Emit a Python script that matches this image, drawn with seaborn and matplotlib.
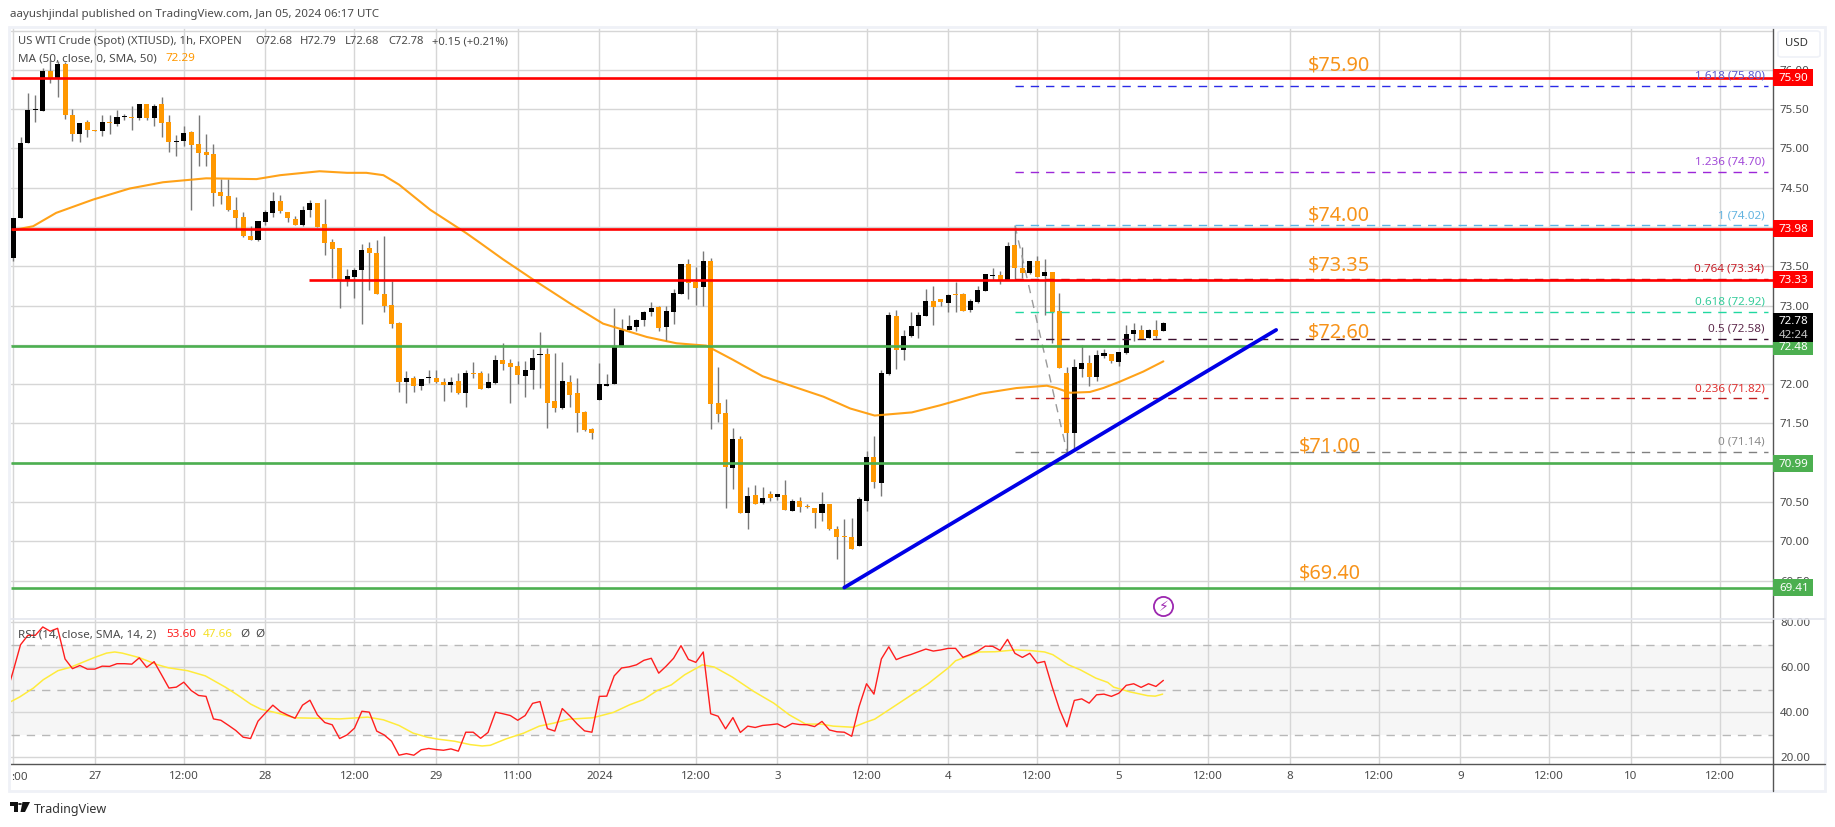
import numpy as np
import pandas as pd
import seaborn as sns
import matplotlib.pyplot as plt
from matplotlib.patches import Rectangle, Polygon, Circle, FancyBboxPatch
from matplotlib.transforms import blended_transform_factory

# hourly candles
opens = [73.61,74.12,75.07,75.49,75.48,75.99,75.90,76.07,75.43,75.19,75.34,75.23,75.22,75.34,75.31,75.40,75.40,75.39,75.56,75.39,
         75.56,75.34,75.08,75.09,75.21,75.06,74.96,74.93,74.44,74.40,74.22,74.13,73.89,73.84,74.07,74.18,74.33,74.19,74.10,74.03,
         74.22,74.30,74.04,73.81,73.73,73.31,73.37,73.45,73.73,73.67,73.15,73.01,72.78,72.03,72.08,71.97,72.08,72.08,72.03,71.99,
         72.04,71.89,72.14,72.14,71.95,72.01,72.31,72.27,72.23,72.10,72.18,72.37,72.38,71.79,71.70,72.03,71.89,71.65,71.43,71.80,
         71.98,72.00,72.47,72.69,72.73,72.82,72.92,72.98,72.73,72.92,73.15,73.53,73.30,73.24,73.57,71.76,71.63,70.93,71.30,70.36,
         70.59,70.49,70.60,70.56,70.59,70.38,70.51,70.45,70.42,70.36,70.47,70.15,70.07,70.06,69.94,70.51,71.07,70.74,72.13,72.87,
         72.44,72.61,72.74,72.87,73.06,73.08,73.03,73.14,73.15,72.94,73.05,73.19,73.38,73.39,73.33,73.77,73.48,73.42,73.57,73.38,
         73.43,72.93,72.14,71.38,72.19,72.27,72.09,72.36,72.38,72.28,72.40,72.64,72.69,72.59,72.69,72.68]
highs = [74.12,75.15,75.70,75.68,76.02,76.13,76.11,76.10,75.50,75.33,75.36,75.23,75.42,75.42,75.49,75.44,75.54,75.57,75.56,75.56,
         75.66,75.43,75.17,75.29,75.22,75.42,75.19,75.06,74.61,74.61,74.38,74.19,74.01,74.08,74.22,74.45,74.41,74.19,74.14,74.27,
         74.35,74.30,74.36,73.85,73.73,73.46,73.48,73.78,73.81,73.84,73.89,73.31,72.79,72.17,72.10,72.07,72.18,72.18,72.08,72.09,
         72.14,72.18,72.28,72.17,72.14,72.37,72.52,72.32,72.29,72.30,72.45,72.66,72.46,72.40,72.28,72.12,72.08,71.66,71.44,72.27,
         72.13,72.97,72.83,72.88,72.83,72.93,73.05,73.00,73.00,73.21,73.53,73.59,73.49,73.70,73.61,72.22,71.81,71.44,71.34,70.69,
         70.72,70.69,70.64,70.60,70.78,70.54,70.56,70.47,70.42,70.63,70.47,70.19,70.28,70.30,70.56,71.15,71.34,72.18,72.92,72.94,
         72.69,72.92,72.92,73.21,73.25,73.08,73.15,73.30,73.16,73.08,73.25,73.40,73.48,73.44,73.81,74.01,73.75,73.57,73.63,73.59,
         73.43,73.16,72.22,72.32,72.50,72.37,72.44,72.45,72.38,72.41,72.75,72.78,72.75,72.70,72.82,72.79]
lows = [73.57,74.12,75.07,75.34,75.48,75.83,75.66,75.38,75.10,75.08,75.15,75.22,75.16,75.19,75.29,75.36,75.23,75.36,75.36,75.29,
        75.15,74.96,74.91,75.03,74.22,74.78,74.78,74.27,74.29,74.21,73.97,73.87,73.83,73.82,74.03,74.13,74.18,74.06,74.03,74.01,
        74.13,74.00,73.65,73.35,72.97,73.25,73.10,72.77,73.20,73.15,72.92,72.72,71.90,71.76,71.90,71.93,72.01,72.02,71.79,71.90,
        71.88,71.71,72.08,71.94,71.95,72.00,72.18,71.76,72.00,71.84,71.94,71.95,71.44,71.65,71.68,71.71,71.39,71.40,71.30,71.80,
        71.98,72.00,72.47,72.69,72.67,72.74,72.87,72.67,72.55,72.77,73.15,73.08,73.01,73.00,71.43,71.52,70.42,70.66,70.36,70.15,
        70.47,70.47,70.51,70.52,70.40,70.38,70.37,70.42,70.17,70.26,70.14,69.77,69.40,69.90,69.94,70.38,70.68,70.57,72.12,72.19,
        72.31,72.60,72.59,72.87,72.75,73.00,72.92,72.92,72.93,72.92,73.03,73.19,73.33,73.28,73.33,73.33,73.35,73.40,73.37,72.88,
        72.52,72.21,71.14,71.16,72.09,71.98,72.04,72.33,72.27,72.23,72.38,72.55,72.58,72.59,72.59,72.68]
closes = [74.12,75.07,75.49,75.50,75.99,75.90,76.07,75.42,75.18,75.33,75.23,75.22,75.34,75.33,75.40,75.41,75.39,75.56,75.39,75.54,
          75.33,75.08,75.09,75.20,75.05,74.94,74.92,74.43,74.39,74.22,74.11,73.89,73.84,74.08,74.19,74.33,74.21,74.11,74.03,74.22,
          74.30,74.00,73.80,73.72,73.31,73.38,73.45,73.71,73.67,73.15,73.00,72.77,72.03,72.08,71.98,72.07,72.09,72.03,71.99,72.03,
          71.89,72.14,72.13,71.94,72.03,72.31,72.26,72.22,72.12,72.18,72.33,72.38,71.76,71.70,72.04,71.86,71.63,71.42,71.38,72.00,
          72.00,72.49,72.69,72.74,72.82,72.92,72.97,72.72,72.93,73.16,73.53,73.29,73.22,73.57,71.75,71.62,70.95,71.30,70.36,70.57,
          70.47,70.55,70.55,70.60,70.40,70.51,70.43,70.44,70.36,70.47,70.15,70.06,70.06,69.90,70.54,71.07,70.75,72.14,72.88,72.44,
          72.61,72.74,72.88,73.06,72.98,73.05,73.13,73.13,72.93,73.06,73.20,73.40,73.39,73.31,73.76,73.48,73.42,73.57,73.37,73.43,
          72.92,72.21,71.38,72.22,72.27,72.09,72.37,72.40,72.29,72.41,72.64,72.69,72.58,72.69,72.61,72.78]

# moving average, bar number / value pairs
ma_bar = [0,2.7,5.8,10.8,15.7,20.2,26,32.8,36,41.3,45,47.6,49.9,52,56.2,61.1,62.9,66,70.1,75,79.5,85.4,89.4,93.4,97,101,109.2,
          112.8,116.1,121.1,124.9,130.5,135.2,139.3,140.6,142.4,145.1,146.9,149.1,152.3,155]
ma_val = [73.96,74.01,74.18,74.35,74.49,74.57,74.62,74.61,74.66,74.71,74.69,74.69,74.66,74.54,74.22,73.92,73.80,73.59,73.33,73.03,
          72.77,72.60,72.52,72.49,72.31,72.10,71.84,71.69,71.60,71.64,71.73,71.88,71.95,71.98,71.95,71.89,71.90,71.95,72.03,72.16,72.29]

# RSI starts one bar before the first visible candle
rsi_val = [47.0,58.1,69.9,74.1,74.1,77.8,75.9,77.2,63.6,59.3,60.7,59.1,59.1,60.4,60.3,61.5,61.5,61.3,64.1,59.9,62.4,56.6,50.7,51.1,
           53.3,49.6,47.4,47.0,37.0,36.4,34.2,31.9,28.9,28.3,36.0,39.6,43.1,40.3,38.7,37.3,43.1,45.3,38.8,35.4,34.4,28.3,29.9,32.9,
           40.4,40.0,31.6,29.9,27.1,20.9,21.6,20.9,23.3,23.9,23.4,23.1,23.7,22.7,31.1,31.1,28.4,31.0,40.0,39.3,38.5,36.4,38.5,43.9,
           44.7,32.7,31.6,41.6,38.4,34.8,31.7,31.1,47.0,47.1,56.1,59.6,60.1,61.0,63.0,63.9,57.3,60.4,63.9,69.5,63.4,62.1,66.7,39.3,
           38.2,32.6,37.6,31.0,33.8,33.2,34.1,34.4,34.8,33.2,35.0,34.5,34.4,33.6,35.9,32.1,31.3,31.1,29.3,42.5,52.6,48.0,63.6,69.0,
           63.3,64.6,65.6,66.8,68.0,67.1,67.6,68.3,68.3,64.3,65.6,67.1,69.3,69.2,67.4,72.3,66.1,64.3,66.1,61.8,62.5,51.4,41.3,33.5,
           45.2,45.9,44.0,47.7,48.0,47.0,48.4,51.9,52.6,51.0,52.6,51.4,54.1]
rsi_ma_bar = [-0.35,0.87,2.74,4.07,6.04,7.8,11,12.6,13.7,14.7,16.9,19.5,20.9,23.5,25.9,28.6,30.2,32,33.4,35.5,37.9,40.8,44,47.8,49.9,
              52,53.9,55.8,57.3,59.5,61.6,63.2,64.3,66.4,68.8,70.9,72.8,74.9,78.1,80.9,83.1,84.9,86.8,88.7,90.5,92.9,94.5,96.9,99.8,
              102.5,104.6,106.8,108.9,110.5,113.2,114.8,116.1,118,120.9,123.3,126,127,130.2,132.3,135,137.2,139,140.1,142.2,143.8,
              145.9,147.5,148.3,150.5,152.9,153.9,154.9]
rsi_ma_val = [44.6,46.7,50.7,54.4,58.4,60.0,64.3,66.2,66.7,66.2,64.3,61.0,59.7,58.4,56.1,51.1,47.7,43.6,41.3,39.7,37.5,37.3,37.0,37.8,
              36.6,34.1,30.7,28.9,28.0,27.1,25.6,25.0,25.3,28.1,30.7,33.8,35.1,36.9,37.5,39.9,43.3,45.5,49.6,52.1,56.6,61.0,60.0,55.6,
              49.2,44.0,38.8,34.7,34.7,33.8,33.3,35.4,36.9,41.0,47.3,52.6,59.6,62.8,66.7,66.8,67.6,67.3,66.7,65.5,61.0,58.8,55.1,53.2,
              51.1,49.0,47.3,47.1,48.0]

red_levels = [75.90, 73.98, 73.33]
green_levels = [72.48, 70.99, 69.41]
level_start = [-0.35, -0.35, 39.9]
trend_bar = [112, 170.2]
trend_val = [69.41, 72.69]

fib_ratio = ['1.618', '1.236', '1', '0.764', '0.618', '0.5', '0.236', '0']
fib_price = [75.80, 74.70, 74.02, 73.34, 72.92, 72.58, 71.82, 71.14]
fib_line = ['#2a2ae6', '#9c27d8', '#5ab4e6', '#b01020', '#20d8a0', '#3c1030', '#c02020', '#808080']
fib_text = ['#5a5ad2', '#a24ad8', '#64b4e0', '#c81e28', '#35cc9b', '#5e2a4c', '#e03030', '#8c8c8c']
fib_start = 135
fib_swing_bar = [135, 142]
fib_swing_val = [74.02, 71.14]

target_labels = ['$75.90', '$74.00', '$73.35', '$72.60', '$71.00', '$69.40']
target_price = [76.05, 74.145, 73.51, 72.655, 71.21, 69.59]
target_bar = [174.4, 174.4, 174.4, 174.4, 173.3, 173.3]

tick_bars = [11,23,34,46,57,68,79,92,103,115,126,138,149,161,172,184,195,207,218,230]
tick_names = ['27','12:00','28','12:00','29','11:00','2024','12:00','3','12:00','4','12:00','5','12:00','8','12:00','9','12:00','10','12:00']

W, H = 1835, 827
ORANGE = '#ff9800'
GRID = '#d6d6d6'
TXT = '#4a4a4a'

sns.set_theme(style='white')
plt.rcParams['font.family'] = ['Noto Sans', 'DejaVu Sans']

df = pd.DataFrame({'bar': np.arange(len(opens)), 'open': opens, 'high': highs, 'low': lows, 'close': closes})
df['up'] = df['close'] >= df['open']
df['bottom'] = df[['open', 'close']].min(axis=1)
df['size'] = (df['close'] - df['open']).abs().clip(lower=0.012)


def px_axes(fig, x0, y0, x1, y1):
    return fig.add_axes([x0 / W, 1 - y1 / H, (x1 - x0) / W, (y1 - y0) / H])


def ftext(fig, x, y, s, **kw):
    kw.setdefault('va', 'center')
    kw.setdefault('color', TXT)
    kw.setdefault('fontsize', 8.4)
    return fig.text(x / W, 1 - y / H, s, **kw)


fig = plt.figure(figsize=(W / 100, H / 100), dpi=100, facecolor='white')
fig.add_artist(Rectangle((8.5 / W, 1 - 791 / H), 1816.5 / W, 764.5 / H, transform=fig.transFigure,
                         fill=False, ec='#eff1f7', lw=2))

ax = px_axes(fig, 10.5, 27.5, 1773, 619)
rs = px_axes(fig, 10.5, 619, 1773, 764)

for a in (ax, rs):
    a.set_xlim(-0.35, 237.15)
    a.set_xticks(tick_bars)
    a.grid(True, color=GRID, lw=1.0)
    a.set_axisbelow(True)
    a.set_facecolor('none')
    for s in ('top', 'left', 'bottom'):
        a.spines[s].set_visible(False)
    a.spines['right'].set_color('#555555')
    a.spines['right'].set_linewidth(1)
    a.yaxis.tick_right()
    a.tick_params(axis='y', length=0, pad=5, labelsize=8.3, labelcolor=TXT)
    a.axvline(0, color=GRID, lw=1.0, zorder=0.5)

ax.set_ylim(69.01, 76.54)
ax.set_yticks(np.arange(69.5, 76.6, 0.5))
# the 76.50 label sits behind the USD button in the original
ax.set_yticklabels(['%.2f' % v for v in np.arange(69.5, 76.1, 0.5)] + [''])
ax.tick_params(axis='x', length=0, labelbottom=False)

# candles
ax.vlines(df['bar'], df['low'], df['high'], color='#787878', lw=1.0, zorder=2)
sub = df[~df['up']]
ax.bar(sub['bar'], sub['size'], bottom=sub['bottom'], width=0.68, color=ORANGE, lw=0, zorder=3)
sub = df[df['up']]
ax.bar(sub['bar'], sub['size'], bottom=sub['bottom'], width=0.68, color='black', lw=0, zorder=3)

sns.lineplot(x=ma_bar, y=ma_val, ax=ax, color=ORANGE, lw=1.5, sort=False, estimator=None, zorder=4, alpha=0.9)

# horizontal levels
for p, st in zip(red_levels, level_start):
    ax.hlines(p, st, 237.15, color='#ff0000', lw=1.9, zorder=5)
for p in green_levels:
    ax.hlines(p, -0.35, 237.15, color='#4caf50', lw=1.9, zorder=5)

# fib tool
sns.lineplot(x=fib_swing_bar, y=fib_swing_val, ax=ax, color='#9a9a9a', lw=1.0, ls=(0, (6, 5)), sort=False, estimator=None, zorder=4)
for r, p, lc, tc in zip(fib_ratio, fib_price, fib_line, fib_text):
    ax.hlines(p, fib_start, 236.5, color=lc, lw=1.0, ls=(0, (6, 5)), zorder=4)
    ax.annotate('%s (%.2f)' % (r, p), xy=(236.0, p), xytext=(0, 3), textcoords='offset points',
                ha='right', va='bottom', color=tc, fontsize=8.4, zorder=6)

sns.lineplot(x=trend_bar, y=trend_val, ax=ax, color='#0000e6', lw=2.7, sort=False, estimator=None, zorder=6)

for s, p, b in zip(target_labels, target_price, target_bar):
    ax.text(b, p, s, color='#f7931a', fontsize=14.3, ha='left', va='center', zorder=7)

# price tags on the scale
tr = blended_transform_factory(ax.transAxes, ax.transData)
tag_w = 40 / (1773 - 10.5)
tag_h = 8.5 / 78.5
for p, c in [(v, '#ff0000') for v in red_levels] + [(v, '#4caf50') for v in green_levels]:
    ax.add_patch(Rectangle((1, p - tag_h), tag_w, 2 * tag_h, transform=tr, color=c, clip_on=False, zorder=8, lw=0))
    ax.text(1 + tag_w * 0.52, p - 0.01, '%.2f' % p, transform=tr, color='white', fontweight='bold',
            fontsize=8.3, ha='center', va='center', zorder=9, clip_on=False)
ax.add_patch(Rectangle((1, 72.53), tag_w, 0.38, transform=tr, color='black', clip_on=False, zorder=8, lw=0))
ax.text(1 + tag_w * 0.52, closes[-1] + 0.02, '%.2f' % closes[-1], transform=tr, color='white', fontweight='bold',
        fontsize=8.3, ha='center', va='center', zorder=9, clip_on=False)
ax.text(1 + tag_w * 0.52, 72.62, '42:24', transform=tr, color='#c8c8c8', fontweight='bold',
        fontsize=8.3, ha='center', va='center', zorder=9, clip_on=False)

# lightning badge under the last bar
ax.scatter([155], [69.17], s=190, facecolor='white', edgecolor='#9c27b0', lw=1.3, zorder=7)
ax.text(155, 69.165, '\u26a1', color='#9c27b0', fontsize=10, ha='center', va='center', zorder=8,
        family='DejaVu Sans')

# RSI pane
rs.set_ylim(17.0, 81.33)
rs.set_yticks([20, 40, 60, 80])
rs.set_yticklabels(['20.00', '40.00', '60.00', '80.00'])
rs.axhspan(30, 70, color='#f6f6f6', lw=0, zorder=0.2)
for lvl in (30, 50, 70):
    rs.axhline(lvl, color='#b8b8b8', lw=1.0, ls=(0, (6, 5)), zorder=1)
sns.lineplot(x=rsi_ma_bar, y=rsi_ma_val, ax=rs, color='#ffeb3b', lw=1.1, sort=False, estimator=None, zorder=3)
sns.lineplot(x=np.arange(-1, len(rsi_val) - 1), y=rsi_val, ax=rs, color='#ff1e1e', lw=1.0, sort=False, estimator=None, zorder=4)
rs.set_xticklabels(tick_names)
rs.tick_params(axis='x', length=0, pad=5, labelsize=8.3, labelcolor=TXT)
for t in rs.get_xticklabels():
    if t.get_text() == '2024':
        t.set_fontweight('bold')
rs.spines['bottom'].set_visible(True)
rs.spines['bottom'].set_color('#555555')
rs.spines['bottom'].set_linewidth(1)
rs.set_xlabel('')
ax.set_xlabel('')

# pane divider and scale bits
fig.add_artist(plt.Line2D([10.5 / W, 1825 / W], [1 - 619 / H] * 2, color='#e4e6ee', lw=1.2))
fig.add_artist(plt.Line2D([1773 / W, 1825 / W], [1 - 764 / H] * 2, color='#555555', lw=1))
fig.add_artist(plt.Line2D([1773 / W, 1773 / W], [1 - 791 / H, 1 - 764 / H], color='#555555', lw=1))
fig.add_artist(FancyBboxPatch((1778 / W, 1 - 57 / H), 42 / W, 26 / H, transform=fig.transFigure,
                              boxstyle='round,pad=0,rounding_size=0.002', fc='white', ec='#eff1f7', lw=1.2))
ftext(fig, 1796, 44, 'USD', ha='center', fontsize=8.2, color='#333333')
ftext(fig, 10.7, 777, ':00', fontsize=8.3)

# text rows
ftext(fig, 10, 15, 'aayushjindal published on TradingView.com, Jan 05, 2024 06:17 UTC', fontsize=8.3)
ftext(fig, 18, 41.5, 'US WTI Crude (Spot) (XTIUSD), 1h, FXOPEN', fontsize=8.1)
for x, s in [(255, 'O72.68'), (300, 'H72.79'), (345, 'L72.68'), (388, 'C72.78'), (432, '+0.15 (+0.21%)')]:
    ftext(fig, x, 41.5, s, fontsize=8.1)
ftext(fig, 18, 58.7, 'MA (50, close, 0, SMA, 50)', fontsize=8.4)
ftext(fig, 165, 58.7, '72.29', fontsize=8.4, color=ORANGE)
ftext(fig, 18.5, 634.7, 'RSI (14, close, SMA, 14, 2)', fontsize=8.4)
ftext(fig, 166, 634.7, '53.60', fontsize=8.4, color='#ff1e1e')
ftext(fig, 203, 634.7, '47.66', fontsize=8.4, color='#f5e028')
ftext(fig, 240, 634.7, '\u00d8', fontsize=8.4)
ftext(fig, 255, 634.7, '\u00d8', fontsize=8.4)

# TradingView wordmark
lx, ly = 10, 802
for pts in ([(0, 0), (7.5, 0), (7.5, 10), (3.5, 10), (3.5, 4), (0, 4)],
            [(12.5, 0), (20, 0), (15, 10), (10.5, 10)]):
    fig.add_artist(Polygon([((lx + a) / W, 1 - (ly + b) / H) for a, b in pts], transform=fig.transFigure, fc='#111111', lw=0))
fig.add_artist(Circle(((lx + 10) / W, 1 - (ly + 2) / H), 2 / W, transform=fig.transFigure, fc='#111111', lw=0))
ftext(fig, 33.5, 809, 'TradingView', fontsize=9.0, color='#333333')

fig.savefig('out.png', dpi=100)
